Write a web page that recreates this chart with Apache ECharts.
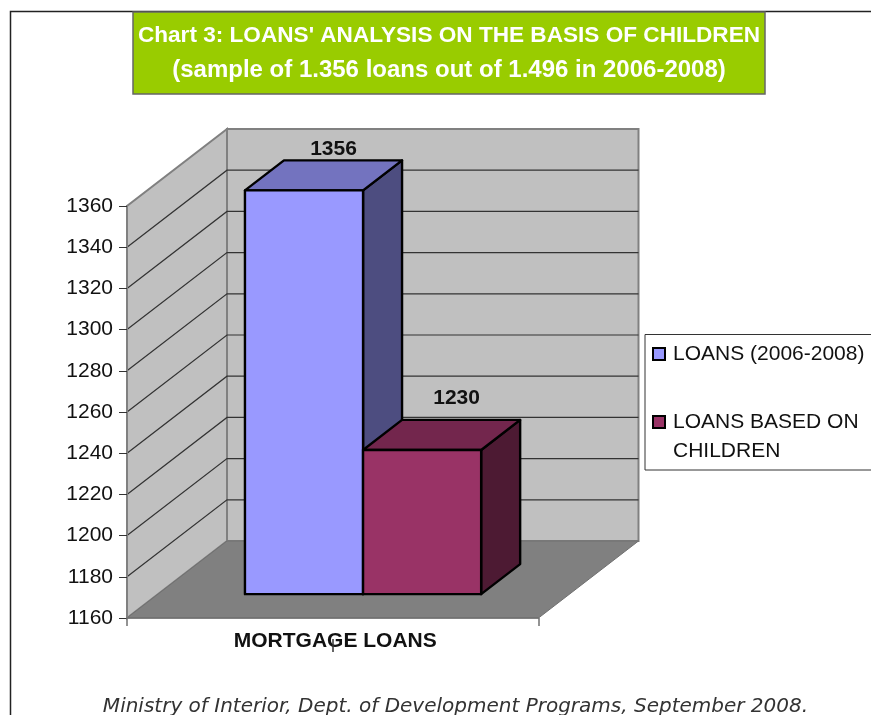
<!DOCTYPE html>
<html>
<head>
<meta charset="utf-8">
<style>html,body{margin:0;padding:0;background:#fff;overflow:hidden}#chart{width:871px;height:715px}</style>
<script src="https://cdn.jsdelivr.net/npm/echarts@6/dist/echarts.min.js"></script>
</head>
<body>
<div id="chart"></div>
<script>
const categories = ['', 'MORTGAGE LOANS', ''];
const yTicks = [1160, 1180, 1200, 1220, 1240, 1260, 1280, 1300, 1320, 1340, 1360];
const loansTotal = [1356];
const loansChildren = [1230];
const seriesNames = ['LOANS (2006-2008)', 'LOANS BASED ON CHILDREN'];
const titleLines = ["Chart 3: LOANS' ANALYSIS ON THE BASIS OF CHILDREN", '(sample of 1.356 loans out of 1.496 in 2006-2008)'];
const sourceText = 'Ministry of Interior, Dept. of Development Programs, September 2008.';

const DX = 100, DY = -77;
const YMIN = 1160, YMAX = 1360;
function pt(api, xi, v, d, xoff) {
  const c = api.coord([xi, v]);
  return [c[0] + (xoff || 0) + DX * d, c[1] + DY * d];
}
function wallItem(params, api) {
  const L = 0, R = 2;
  const fl = pt(api, L, YMIN, 0), bl = pt(api, L, YMIN, 1), br = pt(api, R, YMIN, 1), fr = pt(api, R, YMIN, 0);
  const tfl = pt(api, L, YMAX, 0), tbl = pt(api, L, YMAX, 1), tbr = pt(api, R, YMAX, 1);
  return { type: 'group', children: [
    { type: 'polygon', shape: { points: [fl, bl, tbl, tfl] }, style: { fill: '#C0C0C0', stroke: '#808080', lineWidth: 2 } },
    { type: 'polygon', shape: { points: [bl, br, tbr, tbl] }, style: { fill: '#C0C0C0', stroke: '#808080', lineWidth: 2 } },
    { type: 'polygon', shape: { points: [fl, bl, br, fr] }, style: { fill: '#808080', stroke: '#707070', lineWidth: 1 } }
  ]};
}
function gridItem(params, api) {
  const v = api.value(0);
  return { type: 'polyline',
    shape: { points: [pt(api, 0, v, 0), pt(api, 0, v, 1), pt(api, 2, v, 1)] },
    style: { fill: null, stroke: '#333', lineWidth: 1.2 } };
}
function barRenderer(slot, faces, labelShift) {
  return function (params, api) {
    const v = api.value(1);
    const x0 = api.coord([0, YMIN])[0], x2 = api.coord([2, YMIN])[0];
    const w = (x2 - x0) * 0.287;
    const a = slot * w - 0.7, b = a + w;
    const D1 = 0.31, D2 = 0.70;
    const edge = { stroke: '#000', lineWidth: 2.4, lineJoin: 'round' };
    const f = (o, val, d) => pt(api, 1, val, d, o);
    const mid = f((a + b) / 2, v, (D1 + D2) / 2);
    const back = f(a, v, D2);
    return { type: 'group', children: [
      { type: 'polygon', shape: { points: [f(b, YMIN, D1), f(b, YMIN, D2), f(b, v, D2), f(b, v, D1)] }, style: Object.assign({ fill: faces[2] }, edge) },
      { type: 'polygon', shape: { points: [f(a, v, D1), f(b, v, D1), f(b, v, D2), f(a, v, D2)] }, style: Object.assign({ fill: faces[1] }, edge) },
      { type: 'polygon', shape: { points: [f(a, YMIN, D1), f(b, YMIN, D1), f(b, v, D1), f(a, v, D1)] }, style: Object.assign({ fill: faces[0] }, edge) },
      { type: 'text', style: { text: String(v), x: mid[0] + labelShift[0], y: back[1] + labelShift[1], align: 'center', verticalAlign: 'middle',
          font: 'bold 21px "Liberation Sans", Arial, sans-serif', fill: '#111' } }
    ]};
  };
}

const chart = echarts.init(document.getElementById('chart'));
chart.setOption({
  animation: false,
  backgroundColor: '#fff',
  title: {
    text: '{a|' + titleLines[0] + '}\n{b|' + titleLines[1] + '}', left: 449, top: 19, textAlign: 'center', padding: 0,
    textStyle: { color: '#fff', fontFamily: '"Liberation Sans", Arial, sans-serif', fontWeight: 'bold', fontSize: 23, lineHeight: 34,
      rich: {
        a: { color: '#fff', fontFamily: '"Liberation Sans", Arial, sans-serif', fontWeight: 'bold', fontSize: 22.6, lineHeight: 34 },
        b: { color: '#fff', fontFamily: '"Liberation Sans", Arial, sans-serif', fontWeight: 'bold', fontSize: 24, lineHeight: 34 }
      } }
  },
  grid: { left: 127, top: 206, width: 411.5, height: 412, containLabel: false },
  xAxis: {
    type: 'category', data: categories, boundaryGap: false, z: 10,
    axisLine: { lineStyle: { color: '#707070', width: 1.5 } },
    axisTick: { alignWithLabel: true, length: 8, interval: i => i !== 1, lineStyle: { color: '#707070', width: 1.5 } },
    axisLabel: { interval: 0, margin: 13, padding: [0, 0, 0, 5], color: '#111', fontFamily: '"Liberation Sans", Arial, sans-serif', fontWeight: 'bold', fontSize: 21 }
  },
  yAxis: {
    type: 'value', min: YMIN, max: YMAX, interval: 20, z: 10,
    axisLine: { show: true, lineStyle: { color: '#808080', width: 2 } },
    axisTick: { show: true, length: 8, lineStyle: { color: '#333', width: 1 } },
    axisLabel: { margin: 14, formatter: v => String(v), color: '#111', fontFamily: '"Liberation Sans", Arial, sans-serif', fontSize: 21 },
    splitLine: { show: false }
  },
  legend: {
    orient: 'vertical', left: 652, top: 338, padding: 0, itemGap: 7, itemWidth: 12, itemHeight: 12,
    selectedMode: false, icon: 'rect',
    data: seriesNames,
    formatter: n => n === seriesNames[1] ? '\nLOANS BASED ON\nCHILDREN' : n,
    textStyle: { color: '#111', fontFamily: '"Liberation Sans", Arial, sans-serif', fontSize: 21, lineHeight: 29, padding: [0, 0, 3, 3] }
  },
  graphic: [
    { type: 'polyline', z: -1, silent: true, shape: { points: [[10.5, 720], [10.5, 11.5], [880, 11.5]] }, style: { fill: null, stroke: '#222', lineWidth: 1.5 } },
    { type: 'rect', z: -1, silent: true, shape: { x: 133, y: 12, width: 632, height: 82 }, style: { fill: '#99CC00', stroke: '#666', lineWidth: 1.5 } },
    { type: 'rect', z: -1, silent: true, shape: { x: 645, y: 334.5, width: 240, height: 135.5 }, style: { fill: '#fff', stroke: '#333', lineWidth: 1 } },
    { type: 'line', z: 20, silent: true, shape: { x1: 333, y1: 639, x2: 333, y2: 652 }, style: { stroke: '#333', lineWidth: 1.5 } },
    { type: 'text', z: 5, silent: true, x: 455.5, y: 707, style: { text: sourceText, align: 'center', verticalAlign: 'middle', fill: '#333',
        font: 'italic 20px "DejaVu Sans", sans-serif' } }
  ],
  series: [
    { name: 'walls', type: 'custom', z: 1, silent: true, clip: false, renderItem: wallItem, data: [[1, YMIN]] },
    { name: 'gridlines', type: 'custom', z: 1, silent: true, clip: false, renderItem: gridItem, data: yTicks.slice(1, -1).map(v => [v]), encode: { y: 0 } },
    { name: seriesNames[0], type: 'custom', z: 3, clip: false, itemStyle: { color: '#9999FF', borderColor: '#000', borderWidth: 1.5 },
      renderItem: barRenderer(-1, ['#9999FF', '#7373BF', '#4D4D80'], [10, -11]), data: loansTotal.map(v => [1, v]) },
    { name: seriesNames[1], type: 'custom', z: 4, clip: false, itemStyle: { color: '#993366', borderColor: '#000', borderWidth: 1.5 },
      renderItem: barRenderer(0, ['#993366', '#73264D', '#4D1A33'], [15, -22]), data: loansChildren.map(v => [1, v]) }
  ]
});
</script>
</body>
</html>
